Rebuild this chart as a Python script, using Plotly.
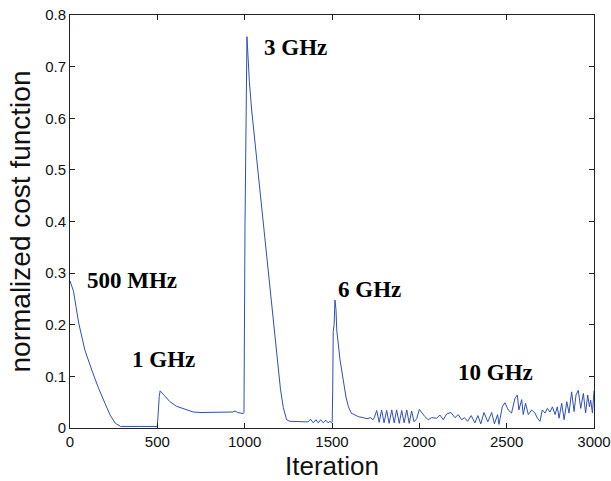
import plotly.graph_objects as go

# ---- data ----
iter_500mhz = [0, 20, 50, 85, 125, 160, 200, 230, 260, 290, 400, 495]
cost_500mhz = [0.285, 0.265, 0.203, 0.151, 0.112, 0.080, 0.048, 0.025, 0.009, 0.003, 0.003, 0.003]

iter_1ghz = [500, 511, 516, 540, 572, 610, 668, 706, 750, 800, 850, 900, 930, 945, 960, 992]
cost_1ghz = [0.003, 0.061, 0.072, 0.063, 0.051, 0.042, 0.035, 0.031, 0.030, 0.030, 0.030, 0.030, 0.031, 0.033, 0.030, 0.028]

iter_3ghz = [996, 998, 1002, 1013, 1016, 1021, 1027, 1040, 1060, 1080, 1107, 1135, 1164, 1190, 1205,
             1221, 1240, 1259, 1300, 1340, 1364, 1377, 1393, 1408, 1421, 1435, 1450, 1465, 1478, 1488, 1497]
cost_3ghz = [0.030, 0.151, 0.397, 0.758, 0.735, 0.726, 0.671, 0.616, 0.55, 0.48, 0.403, 0.30, 0.209, 0.12, 0.075,
             0.040, 0.016, 0.013, 0.012, 0.012, 0.012, 0.017, 0.010, 0.016, 0.010, 0.016, 0.010, 0.015, 0.010, 0.013, 0.010]

iter_6ghz = [1501, 1504, 1507, 1512, 1517, 1523, 1527, 1546, 1565, 1580, 1594, 1612, 1622, 1650, 1680, 1700,
             1720, 1735, 1742, 1756, 1770, 1784, 1798, 1813, 1827, 1842, 1856, 1870, 1885, 1899, 1913,
             1928, 1942, 1956, 1970, 1985, 2000, 2016, 2032, 2051, 2070, 2099, 2118, 2137, 2156, 2181,
             2204, 2223, 2242, 2259, 2276, 2297, 2318, 2335, 2352, 2370, 2392, 2414, 2430, 2448, 2456]
cost_6ghz = [0.012, 0.070, 0.187, 0.200, 0.248, 0.229, 0.190, 0.132, 0.087, 0.060, 0.041, 0.028, 0.027, 0.022, 0.020, 0.018,
             0.020, 0.016, 0.020, 0.034, 0.011, 0.035, 0.010, 0.034, 0.009, 0.035, 0.010, 0.035, 0.009, 0.034, 0.010,
             0.035, 0.009, 0.033, 0.012, 0.018, 0.036, 0.028, 0.022, 0.016, 0.020, 0.019, 0.025, 0.016, 0.027, 0.030,
             0.020, 0.026, 0.016, 0.020, 0.013, 0.024, 0.010, 0.024, 0.008, 0.030, 0.012, 0.030, 0.008, 0.026, 0.007]

iter_10ghz = [2475, 2490, 2509, 2528, 2547, 2561, 2570, 2586, 2595, 2608, 2624, 2643, 2662, 2676, 2691,
              2704, 2720, 2733, 2748, 2762, 2777, 2790, 2800, 2815, 2829, 2844, 2857, 2872, 2886, 2897,
              2910, 2924, 2939, 2952, 2964, 2974, 2981, 2991, 3000]
cost_10ghz = [0.041, 0.049, 0.035, 0.029, 0.057, 0.064, 0.035, 0.055, 0.026, 0.048, 0.026, 0.035, 0.029, 0.019, 0.013,
              0.035, 0.029, 0.038, 0.031, 0.041, 0.026, 0.041, 0.019, 0.048, 0.016, 0.051, 0.029, 0.070, 0.032, 0.064,
              0.073, 0.038, 0.067, 0.029, 0.064, 0.041, 0.054, 0.029, 0.072]

labels = ["500 MHz", "1 GHz", "3 GHz", "6 GHz", "10 GHz"]
label_x = [86, 343, 1099, 1523, 2210]
label_y = [0.285, 0.132, 0.738, 0.269, 0.108]

x_ticks = [0, 500, 1000, 1500, 2000, 2500, 3000]
y_ticks = [0, 0.1, 0.2, 0.3, 0.4, 0.5, 0.6, 0.7, 0.8]

iters = iter_500mhz + iter_1ghz + iter_3ghz + iter_6ghz + iter_10ghz
costs = cost_500mhz + cost_1ghz + cost_3ghz + cost_6ghz + cost_10ghz

fig = go.Figure()
fig.add_trace(go.Scatter(x=iters, y=costs, mode="lines",
                         line=dict(color="#2f4fb8", width=1), showlegend=False))

for t, xv, yv in zip(labels, label_x, label_y):
    fig.add_annotation(x=xv, y=yv, text="<b>" + t + "</b>", showarrow=False,
                       xanchor="left", yanchor="middle",
                       font=dict(family="Liberation Serif", size=23, color="black"))

axis_common = dict(showline=True, linecolor="#222", linewidth=1, mirror="ticks",
                   ticks="inside", ticklen=5, tickcolor="#222", showgrid=False, zeroline=False,
                   automargin=True, ticklabeloverflow="allow",
                   tickfont=dict(family="Liberation Sans", size=15, color="#111"))

fig.update_xaxes(range=[0, 3000], tickvals=x_ticks, ticktext=[str(v) for v in x_ticks],
                 title=dict(text="Iteration", font=dict(family="Liberation Sans", size=26, color="#111"),
                            standoff=8),
                 **axis_common)
fig.update_yaxes(range=[0, 0.8], tickvals=y_ticks, ticktext=["0"] + [f"{v:.1f}" for v in y_ticks[1:]],
                 title=dict(text="normalized cost function",
                            font=dict(family="Liberation Sans", size=28, color="#111"), standoff=6),
                 **axis_common)

fig.update_layout(width=611, height=481, margin=dict(l=70, r=17, t=15, b=53, autoexpand=False),
                  plot_bgcolor="white", paper_bgcolor="white")

fig.write_html("out.html", config={"displayModeBar": False})

# remove the default 8px page margin so the figure fills the window exactly
with open("out.html", "r", encoding="utf-8") as f:
    html = f.read()
html = html.replace("<body>", '<body style="margin:0;overflow:hidden">', 1)
with open("out.html", "w", encoding="utf-8") as f:
    f.write(html)
